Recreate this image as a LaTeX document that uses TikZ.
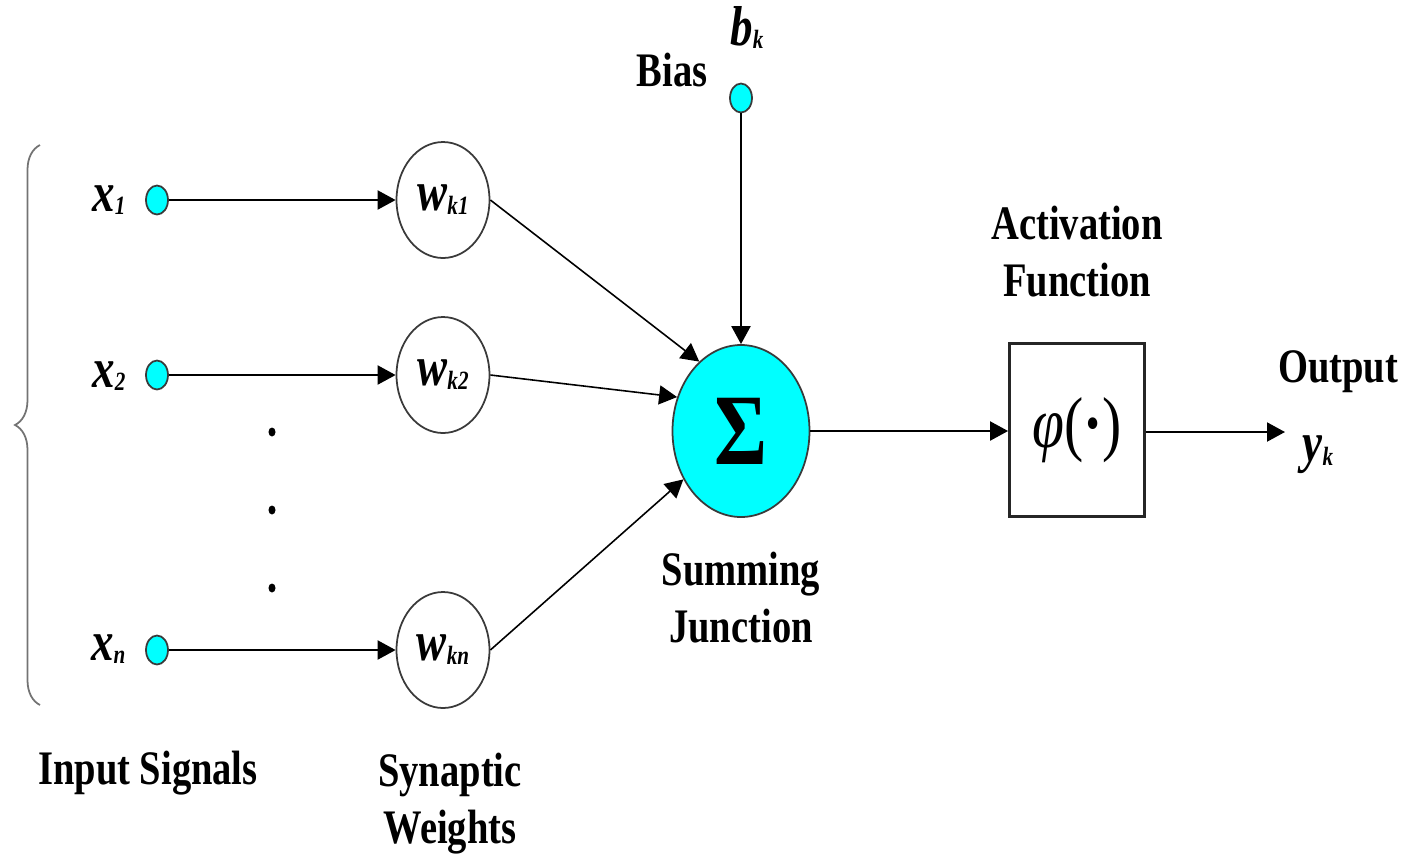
\documentclass[tikz,border=0pt]{standalone}
\usepackage{fontspec}
\setmainfont{Liberation Serif}[FakeStretch=0.8]
\usetikzlibrary{arrows.meta,shapes.geometric,decorations.pathreplacing}
\definecolor{nnCyan}{HTML}{00FFFF}
\definecolor{nnEdge}{HTML}{3A3A3A}
\tikzset{
  >={Triangle[length=1.8mm,width=1.9mm]},
  dot/.style={ellipse, draw=nnEdge, fill=nnCyan, line width=0.5pt,
              minimum width=2.2mm, minimum height=2.9mm, inner sep=0pt},
  weight/.style={ellipse, draw=nnEdge, fill=white, line width=0.5pt,
              minimum width=9.3mm, minimum height=11.6mm, inner sep=0pt,
              font=\bfseries\itshape\fontsize{16}{17}\selectfont},
  sumnode/.style={ellipse, draw=nnEdge, fill=nnCyan, line width=0.5pt,
              minimum width=13.7mm, minimum height=17.2mm, inner sep=0pt,
              font=\bfseries\fontsize{28.8}{30}\selectfont},
  actbox/.style={rectangle, draw=black!85, line width=0.8pt,
              minimum width=13.5mm, minimum height=17.3mm, inner sep=0pt,
              font=\fontsize{20.5}{22}\selectfont},
  lbl/.style={font=\bfseries\fontsize{13.7}{16.2}\selectfont, align=center, inner sep=0pt},
  var/.style={font=\bfseries\itshape\fontsize{16}{17}\selectfont, inner sep=0pt},
  ell/.style={ellipse, fill=black, minimum width=0.7mm, minimum height=0.9mm, inner sep=0pt},
  flow/.style={->, line width=0.6pt},
  wflow/.style={->, line width=0.45pt},
  brc/.style={draw=black!55, line width=0.5pt, decorate, decoration={brace, amplitude=2.5mm}},
}
\newcommand{\vsub}[1]{\raisebox{-0.15ex}{\fontsize{7.5}{8}\selectfont #1}}

\begin{document}
\begin{tikzpicture}[x=0.1mm,y=-0.1mm]
  \useasboundingbox (0,0) rectangle (1406,861);
  % inputs
  \node[dot] (x1) at (157,200){};
  \node[dot] (x2) at (157,375){};
  \node[dot] (xn) at (157,650){};
  \node[var,anchor=base east] (x1lbl) at (126,211){x\vsub{1}};
  \node[var,anchor=base east] (x2lbl) at (126,387){x\vsub{2}};
  \node[var,anchor=base east] (xnlbl) at (126,660){x\vsub{n}};
  \foreach \y [count=\i] in {432,510,588}{\node[ell] (ell\i) at (272,\y){};}
  \coordinate (brtop) at (40,145);
  \coordinate (brbot) at (40,705);
  \draw[brc] (brbot) -- (brtop);
  % weights
  \node[weight] (w1) at (443,200){w\vsub{k1}};
  \node[weight] (w2) at (443,375){w\vsub{k2}};
  \node[weight] (wn) at (443,650){w\vsub{kn}};
  \foreach \i in {1,2,n}{\draw[flow](x\i)--(w\i);}
  % summing junction
  \node[sumnode] (sum) at (741,431){Σ};
  \node[dot] (bias) at (741,98){};
  \node[lbl] (biaslbl) at (672,70){Bias};
  \node[var,anchor=base] (bk) at (747,45){b\vsub{k}};
  \draw[flow](bias)--(sum.north);
  \foreach \i/\a in {1/121,2/152,n/220}{\draw[wflow](w\i.east)--(sum.\a);}
  % activation and output
  \node[actbox] (act) at (1077,430){\textit{φ}(\textbf{·})};
  \coordinate (out) at (1285,432);
  \draw[flow](sum.east)--(act.west|-sum.east);
  \draw[flow](act.east|-out)--(out);
  \node[lbl] (actlbl) at (1077,252){Activation\\Function};
  \node[lbl] (outlbl) at (1338,372){Output};
  \node[var] (yk) at (1318,455){y\vsub{k}};
  % captions
  \node[lbl] (sumlbl) at (741,598){Summing\\Junction};
  \node[lbl] (inlbl) at (148,773){Input Signals};
  \node[lbl] (wlbl) at (450,804){Synaptic\\Weights};
\end{tikzpicture}
\end{document}
